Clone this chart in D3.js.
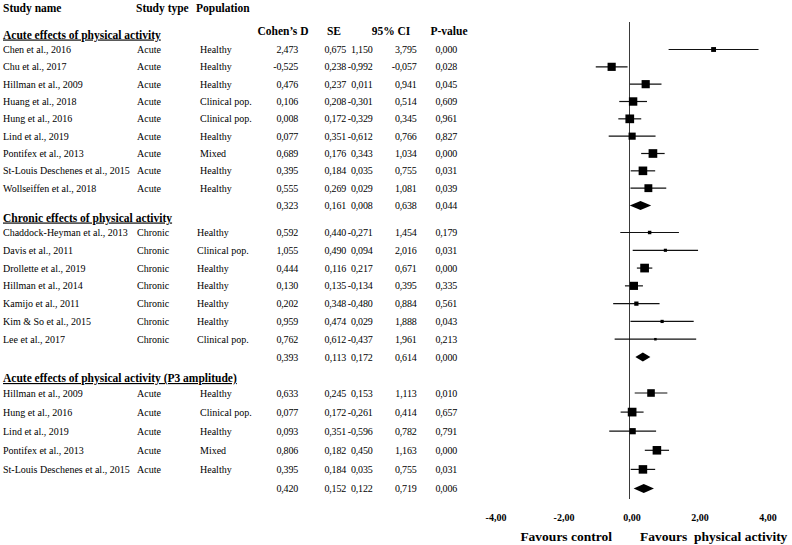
<!DOCTYPE html>
<html>
<head>
<meta charset="utf-8">
<script src="https://cdn.jsdelivr.net/npm/d3@7"></script>
<style>
  html, body { margin: 0; padding: 0; background: #fff; }
  svg, svg text { font-family: 'Liberation Serif', 'Times New Roman', Times, 'DejaVu Serif', serif; }
</style>
</head>
<body>
<svg id="chart" width="792" height="545"></svg>
<script>
// ---------------- DATA ----------------
const columnHeaders = ["Cohen\u2019s D", "SE", "95% CI", "P-value"];
const topHeaders = ["Study name", "Study type", "Population"];
const sectionTitles = [
  "Acute effects of physical activity",
  "Chronic effects of physical activity",
  "Acute effects of physical activity (P3 amplitude)"
];

// Section 1: acute effects
const acuteNames = ["Chen et al., 2016", "Chu et al., 2017", "Hillman et al., 2009", "Huang et al., 2018",
  "Hung et al., 2016", "Lind et al., 2019", "Pontifex et al., 2013", "St-Louis Deschenes et al., 2015",
  "Wollseiffen et al., 2018"];
const acuteTypes = ["Acute", "Acute", "Acute", "Acute", "Acute", "Acute", "Acute", "Acute", "Acute"];
const acutePops = ["Healthy", "Healthy", "Healthy", "Clinical pop.", "Clinical pop.", "Healthy", "Mixed", "Healthy", "Healthy"];
const acuteD = [2.473, -0.525, 0.476, 0.106, 0.008, 0.077, 0.689, 0.395, 0.555];
const acuteSE = [0.675, 0.238, 0.237, 0.208, 0.172, 0.351, 0.176, 0.184, 0.269];
const acuteLo = [1.150, -0.992, 0.011, -0.301, -0.329, -0.612, 0.343, 0.035, 0.029];
const acuteHi = [3.795, -0.057, 0.941, 0.514, 0.345, 0.766, 1.034, 0.755, 1.081];
const acuteP = [0.000, 0.028, 0.045, 0.609, 0.961, 0.827, 0.000, 0.031, 0.039];
const acuteWeight = [4.2, 11.8, 11.8, 12.5, 13.4, 9.0, 13.3, 13.1, 11.0]; // relative weight (%)

// Section 2: chronic effects
const chronicNames = ["Chaddock-Heyman et al., 2013", "Davis et al., 2011", "Drollette et al., 2019",
  "Hillman et al., 2014", "Kamijo et al., 2011", "Kim & So et al., 2015", "Lee et al., 2017"];
const chronicTypes = ["Chronic", "Chronic", "Chronic", "Chronic", "Chronic", "Chronic", "Chronic"];
const chronicPops = ["Healthy", "Clinical pop.", "Healthy", "Healthy", "Healthy", "Healthy", "Clinical pop."];
const chronicD = [0.592, 1.055, 0.444, 0.130, 0.202, 0.959, 0.762];
const chronicSE = [0.440, 0.490, 0.116, 0.135, 0.348, 0.474, 0.612];
const chronicLo = [-0.271, 0.094, 0.217, -0.134, -0.480, 0.029, -0.437];
const chronicHi = [1.454, 2.016, 0.671, 0.395, 0.884, 1.888, 1.961];
const chronicP = [0.179, 0.031, 0.000, 0.335, 0.561, 0.043, 0.213];
const chronicWeight = [6.0, 4.9, 38.2, 33.4, 9.1, 5.2, 3.2];

// Section 3: acute effects (P3 amplitude)
const p3Names = ["Hillman et al., 2009", "Hung et al., 2016", "Lind et al., 2019", "Pontifex et al., 2013",
  "St-Louis Deschenes et al., 2015"];
const p3Types = ["Acute", "Acute", "Acute", "Acute", "Acute"];
const p3Pops = ["Healthy", "Clinical pop.", "Healthy", "Mixed", "Healthy"];
const p3D = [0.633, 0.077, 0.093, 0.806, 0.395];
const p3SE = [0.245, 0.172, 0.351, 0.182, 0.184];
const p3Lo = [0.153, -0.261, -0.596, 0.450, 0.035];
const p3Hi = [1.113, 0.414, 0.782, 1.163, 0.755];
const p3P = [0.010, 0.657, 0.791, 0.000, 0.031];
const p3Weight = [18.1, 23.8, 12.1, 23.0, 22.8];

// Summary (pooled) rows per section
const summaryD = [0.323, 0.393, 0.420];
const summarySE = [0.161, 0.113, 0.152];
const summaryLo = [0.008, 0.172, 0.122];
const summaryHi = [0.638, 0.614, 0.719];
const summaryP = [0.044, 0.000, 0.006];

const axisTicks = [-4, -2, 0, 2, 4];
const axisLabels = ["Favours control", "Favours\u00A0 physical activity"];

// ---------------- BUILD ----------------
const FONT = "'Liberation Serif', 'Times New Roman', Times, 'DejaVu Serif', serif";
const sections = [
  {names: acuteNames, types: acuteTypes, pops: acutePops, d: acuteD, se: acuteSE, lo: acuteLo, hi: acuteHi, p: acuteP, w: acuteWeight},
  {names: chronicNames, types: chronicTypes, pops: chronicPops, d: chronicD, se: chronicSE, lo: chronicLo, hi: chronicHi, p: chronicP, w: chronicWeight},
  {names: p3Names, types: p3Types, pops: p3Pops, d: p3D, se: p3SE, lo: p3Lo, hi: p3Hi, p: p3P, w: p3Weight}
];

const locale = d3.formatLocale({decimal: ",", thousands: ".", grouping: [3], currency: ["", ""], minus: "-"});
const f3 = locale.format(".3f");
const f2 = locale.format(".2f");

let idx = 0;
const rows = [];
sections.forEach((s, si) => {
  s.headerIdx = idx; idx++;
  s.firstIdx = idx;
  s.names.forEach((n, i) => {
    rows.push({sec: si, i, idx: idx, name: n, type: s.types[i], pop: s.pops[i], d: s.d[i], se: s.se[i],
      lo: s.lo[i], hi: s.hi[i], p: s.p[i], w: s.w[i], summary: false});
    idx++;
  });
  rows.push({sec: si, idx: idx, name: "", type: "", pop: "", d: summaryD[si], se: summarySE[si],
    lo: summaryLo[si], hi: summaryHi[si], p: summaryP[si], summary: true});
  s.summaryIdx = idx;
  idx++;
});

const svg = d3.select("#chart").attr("font-family", FONT);

const y = d3.scaleLinear()
  .domain([sections[0].firstIdx, sections[0].summaryIdx, sections[1].firstIdx, sections[1].summaryIdx, sections[2].firstIdx, sections[2].summaryIdx])
  .range([49.5, 205.5, 232.5, 357, 393, 488.5]);

const x = d3.scaleLinear().domain([-4, 4]).range([493.5, 765.5]);

// ---------- table headers ----------
const hdr = svg.append("g").attr("font-family", FONT).attr("font-weight", "bold").attr("font-size", 11.5).attr("fill", "#000");
const topX = [3, 136, 196];
topHeaders.forEach((t, i) => hdr.append("text").attr("x", topX[i]).attr("y", 12).text(t));
const colHX = [283, 334, 391, 449];
columnHeaders.forEach((t, i) => hdr.append("text").attr("x", colHX[i]).attr("y", 35)
  .attr("text-anchor", "middle").text(t));

sections.forEach((s, si) => {
  hdr.append("text")
    .attr("x", 3)
    .attr("y", y(s.firstIdx) - 15 + 4)
    .style("text-decoration", "underline")
    .text(sectionTitles[si]);
});

// ---------- table body ----------
const body = svg.append("g").attr("font-family", FONT).attr("font-size", 10).attr("fill", "#000");
const rowG = body.selectAll("g.row").data(rows).join("g")
  .attr("class", "row")
  .attr("transform", d => `translate(0,${y(d.idx) + 3.6})`);

rowG.append("text").attr("x", 3).text(d => d.name);
rowG.append("text").attr("x", 137).text(d => d.type);
rowG.append("text").attr("x", d => d.sec === 1 ? 197 : 200).text(d => d.pop);
const numCols = [
  {key: "d", x: 298}, {key: "se", x: 346}, {key: "lo", x: 372.5}, {key: "hi", x: 416.5}, {key: "p", x: 457}
];
numCols.forEach(c => {
  rowG.append("text").attr("x", c.x).attr("text-anchor", "end")
    .attr("letter-spacing", -0.2)
    .text(d => f3(d[c.key]));
});

// ---------- forest plot ----------
const plot = svg.append("g");

plot.append("line")
  .attr("x1", x(0)).attr("x2", x(0))
  .attr("y1", 22).attr("y2", 499)
  .attr("stroke", "#3a3a3a").attr("stroke-width", 1);

const studyRows = rows.filter(r => !r.summary);
const sumRows = rows.filter(r => r.summary);

const sizeScales = sections.map(s => d3.scaleSqrt().domain([0, d3.max(s.w)]).range([0, 8.7]));

plot.selectAll("line.ci").data(studyRows).join("line")
  .attr("class", "ci")
  .attr("x1", d => x(d.lo)).attr("x2", d => x(d.hi))
  .attr("y1", d => y(d.idx)).attr("y2", d => y(d.idx))
  .attr("stroke", "#111").attr("stroke-width", 1.2);

plot.selectAll("rect.pt").data(studyRows).join("rect")
  .attr("class", "pt")
  .attr("x", d => x(d.d) - sizeScales[d.sec](d.w) / 2)
  .attr("y", d => y(d.idx) - sizeScales[d.sec](d.w) / 2)
  .attr("width", d => sizeScales[d.sec](d.w))
  .attr("height", d => sizeScales[d.sec](d.w))
  .attr("fill", "#000");

plot.selectAll("path.diamond").data(sumRows).join("path")
  .attr("class", "diamond")
  .attr("d", d => {
    const cy = y(d.idx), h = 4.6;
    return `M${x(d.lo)},${cy}L${x(d.d)},${cy - h}L${x(d.hi)},${cy}L${x(d.d)},${cy + h}Z`;
  })
  .attr("fill", "#000");

// ---------- axis ----------
const axis = d3.axisBottom(x).tickValues(axisTicks).tickFormat(f2).tickSize(0).tickPadding(0);
const axG = svg.append("g").attr("transform", "translate(2,513.5)").call(axis)
  .attr("font-family", FONT).attr("font-size", 10).attr("font-weight", "bold");
axG.select(".domain").remove();
axG.selectAll("text").attr("fill", "#000");

const lab = svg.append("g").attr("font-family", FONT).attr("font-weight", "bold").attr("font-size", 13.5).attr("fill", "#000");
lab.append("text").attr("x", x(0) - 17.5).attr("y", 540.5).attr("text-anchor", "end").text(axisLabels[0]);
lab.append("text").attr("x", x(0) + 10.5).attr("y", 540.5).text(axisLabels[1]);
</script>
</body>
</html>
